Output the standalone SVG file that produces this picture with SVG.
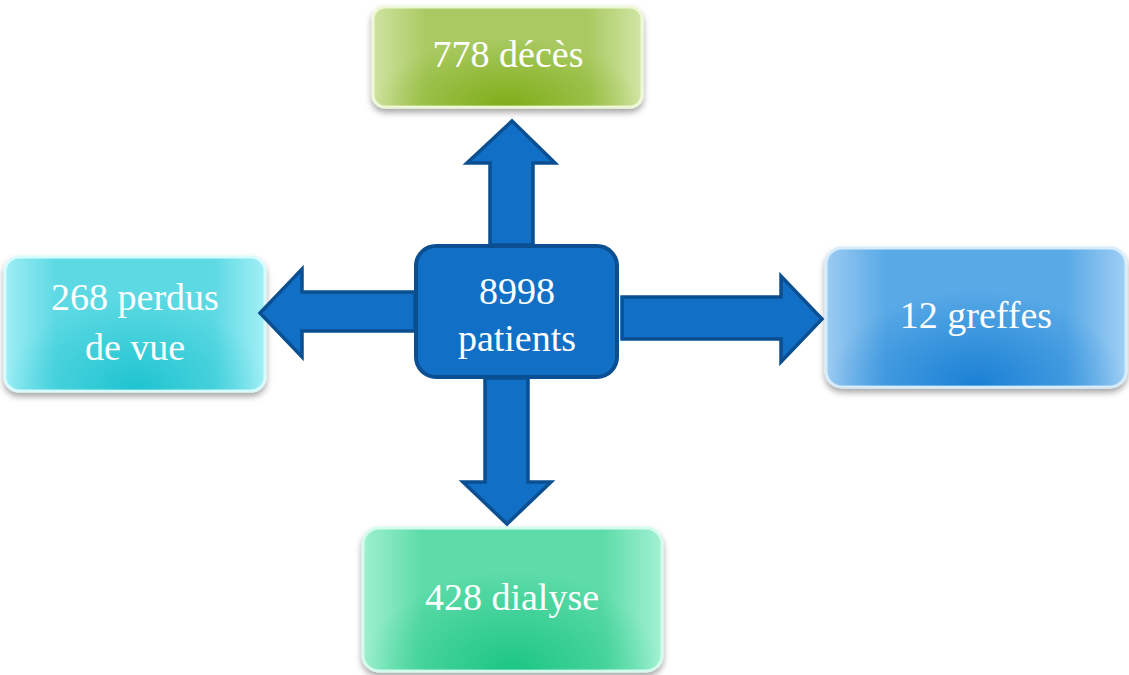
<svg xmlns="http://www.w3.org/2000/svg" width="1129" height="675" viewBox="0 0 1129 675">
<style>
.lbl{font-family:"Liberation Serif","DejaVu Serif",serif;font-size:38px;fill:#ffffff;text-anchor:middle}
.arr{fill:#1170c6;stroke:#0a4f91;stroke-width:3.5;stroke-linejoin:miter}
.box{stroke-width:3;filter:url(#sh)}
.glow{stroke:none}
</style>
<defs>
<filter id="sh" x="-10%" y="-10%" width="120%" height="130%">
<feDropShadow dx="0" dy="4" stdDeviation="3" flood-color="#000" flood-opacity="0.35"/>
</filter>
<linearGradient id="lGreen" x1="0" y1="0" x2="1" y2="0">
<stop offset="0" stop-color="#cfe3a0"/><stop offset="0.2" stop-color="#a9ca62"/><stop offset="0.8" stop-color="#a9ca62"/><stop offset="1" stop-color="#d2e6a6"/>
</linearGradient>
<linearGradient id="lCyan" x1="0" y1="0" x2="1" y2="0">
<stop offset="0" stop-color="#9eeef5"/><stop offset="0.2" stop-color="#5cd9e3"/><stop offset="0.8" stop-color="#5cd9e3"/><stop offset="1" stop-color="#a3eff6"/>
</linearGradient>
<linearGradient id="lBlue" x1="0" y1="0" x2="1" y2="0">
<stop offset="0" stop-color="#9ccbf2"/><stop offset="0.2" stop-color="#58a9e6"/><stop offset="0.8" stop-color="#58a9e6"/><stop offset="1" stop-color="#a0cff4"/>
</linearGradient>
<linearGradient id="lMint" x1="0" y1="0" x2="1" y2="0">
<stop offset="0" stop-color="#9ef0cf"/><stop offset="0.2" stop-color="#5ddba8"/><stop offset="0.8" stop-color="#5ddba8"/><stop offset="1" stop-color="#a3f1d3"/>
</linearGradient>
<radialGradient id="rGreen" cx="50%" cy="100%" r="50%" fx="50%" fy="100%" gradientTransform="translate(0.5 1) scale(1 1.4) translate(-0.5 -1)">
<stop offset="0" stop-color="#80ad18" stop-opacity="1"/><stop offset="1" stop-color="#80ad18" stop-opacity="0"/>
</radialGradient>
<radialGradient id="rCyan" cx="50%" cy="100%" r="50%" fx="50%" fy="100%" gradientTransform="translate(0.5 1) scale(1 1.4) translate(-0.5 -1)">
<stop offset="0" stop-color="#1ec4d0" stop-opacity="1"/><stop offset="1" stop-color="#1ec4d0" stop-opacity="0"/>
</radialGradient>
<radialGradient id="rBlue" cx="50%" cy="100%" r="50%" fx="50%" fy="100%" gradientTransform="translate(0.5 1) scale(1 1.4) translate(-0.5 -1)">
<stop offset="0" stop-color="#1a80d4" stop-opacity="1"/><stop offset="1" stop-color="#1a80d4" stop-opacity="0"/>
</radialGradient>
<radialGradient id="rMint" cx="50%" cy="100%" r="50%" fx="50%" fy="100%" gradientTransform="translate(0.5 1) scale(1 1.4) translate(-0.5 -1)">
<stop offset="0" stop-color="#1cc684" stop-opacity="1"/><stop offset="1" stop-color="#1cc684" stop-opacity="0"/>
</radialGradient>
</defs>

<g id="n-deces">
<rect class="box" x="373" y="7" width="269" height="100" rx="12" ry="12" fill="url(#lGreen)" stroke="#eef7d6"/>
<rect class="glow" x="374.5" y="8.5" width="266" height="97" rx="11" ry="11" fill="url(#rGreen)"/>
<text class="lbl" x="508" y="67">778 décès</text>
</g>

<g id="n-perdus">
<rect class="box" x="5" y="257" width="260" height="134" rx="14" ry="14" fill="url(#lCyan)" stroke="#d8fbfd"/>
<rect class="glow" x="6.5" y="258.5" width="257" height="131" rx="13" ry="13" fill="url(#rCyan)"/>
<text class="lbl" x="135" y="310">268 perdus</text>
<text class="lbl" x="135" y="360">de vue</text>
</g>

<g id="n-greffes">
<rect class="box" x="826" y="248" width="300" height="139" rx="16" ry="16" fill="url(#lBlue)" stroke="#d6ecfb"/>
<rect class="glow" x="827.5" y="249.5" width="297" height="136" rx="15" ry="15" fill="url(#rBlue)"/>
<text class="lbl" x="976" y="328">12 greffes</text>
</g>

<g id="n-dialyse">
<rect class="box" x="363" y="528" width="299" height="143" rx="16" ry="16" fill="url(#lMint)" stroke="#d4fbee"/>
<rect class="glow" x="364.5" y="529.5" width="296" height="140" rx="15" ry="15" fill="url(#rMint)"/>
<text class="lbl" x="512" y="610">428 dialyse</text>
</g>

<g id="connectors">
<polygon class="arr" points="490,245 490,163 467,163 512,121 555,163 533,163 533,245"/>
<polygon class="arr" points="415,292 302,292 302,269 260,313 302,357 302,331 415,331"/>
<polygon class="arr" points="622,297 781,297 781,276 822,319 781,362 781,339 622,339"/>
<polygon class="arr" points="485,378 485,482 463,482 507,524 551,482 528,482 528,378"/>
</g>

<g id="n-center">
<rect x="416" y="246" width="201" height="131" rx="20" ry="20" fill="#1170c6" stroke="#0a4f91" stroke-width="4"/>
<text class="lbl" x="517" y="304">8998</text>
<text class="lbl" x="517" y="351">patients</text>
</g>
</svg>
